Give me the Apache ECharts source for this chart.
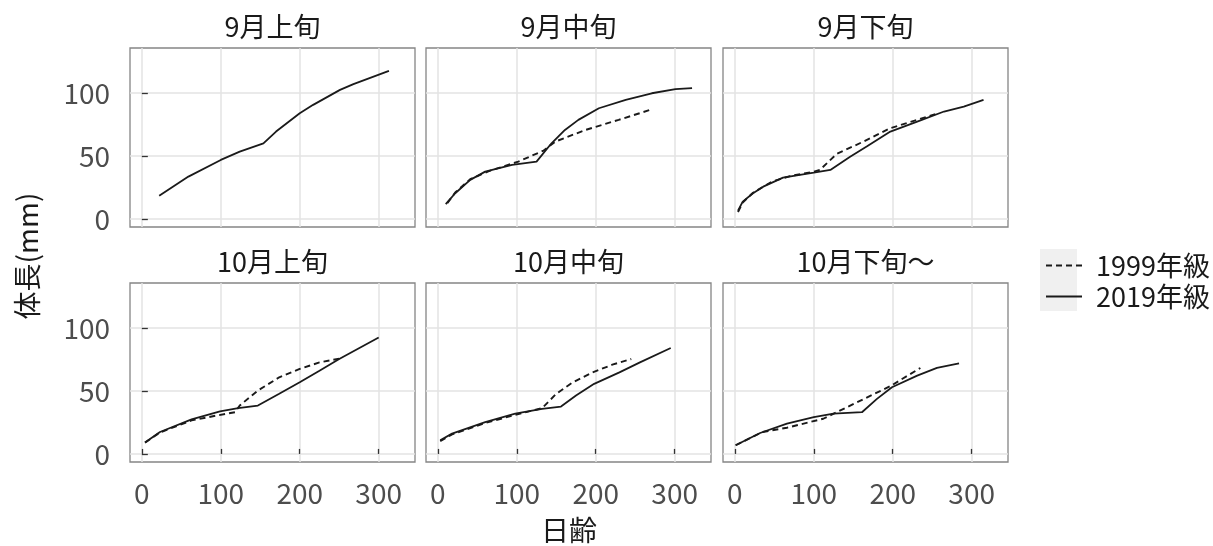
<!DOCTYPE html>
<html><head><meta charset="utf-8">
<script src="https://cdn.jsdelivr.net/npm/echarts@6/dist/echarts.min.js"></script>
<style>html,body{margin:0;padding:0;background:#fff}#c{width:1213px;height:546px}</style>
</head><body><div id="c"></div>
<script>
const panelTitles = ['9月上旬','9月中旬','9月下旬','10月上旬','10月中旬','10月下旬～'];
const cohortNames = ['1999年級','2019年級'];
const xTicks = [0, 100, 200, 300];
const yTicks = [0, 50, 100];
const xLabel = '日齢';
const yLabel = '体長(mm)';

// [日齢, 体長(mm)]
const sep1_1999 = [];
const sep1_2019 = [[22,18.3],[59,33.6],[100,46.8],[124,53.4],[154,60],[170,69.3],[200,83.9],[217,90.5],[251,102.4],[268,107],[313,117.5]];
const sep2_1999 = [[12,12.5],[22,21],[41,31.5],[64,37.8],[102,45.5],[134,54.2],[149,61.4],[187,70.6],[229,78.6],[269,86.5]];
const sep2_2019 = [[10,11.7],[22,20.4],[41,31],[60,37.5],[94,42.9],[125,45.5],[144,60],[161,70.6],[178,78.6],[204,87.8],[238,94.4],[271,99.7],[301,102.9],[322,103.7]];
const sep3_1999 = [[4,5.5],[10,13],[23,20.8],[47,29.6],[70,34],[100,37.5],[108,39],[129,51.6],[163,61.4],[197,72],[231,78.6],[258,83.9]];
const sep3_2019 = [[4,6.6],[10,13.7],[23,20.4],[36,25.6],[61,32.8],[100,36.7],[121,38.9],[146,49.4],[167,57.4],[197,69.3],[231,77.2],[265,85.2],[290,89.1],[315,94.4]];
const oct1_1999 = [[4,9],[23,17],[63,26.6],[95,30.5],[118,33.1],[124,38.4],[147,50.3],[174,60.8],[200,67.4],[225,72.6],[253,76]];
const oct1_2019 = [[4,9],[23,17.4],[63,27.4],[99,33.7],[122,36.3],[147,38.4],[174,47.7],[200,56.8],[225,66],[250,75.3],[300,92.3]];
const oct2_1999 = [[3,10.2],[18,15.5],[60,24.5],[98,31],[132,36.3],[150,47.7],[171,56.8],[196,64.7],[221,70.8],[245,75.3]];
const oct2_2019 = [[3,10.8],[18,16.1],[60,25.3],[98,31.9],[132,35.8],[156,37.6],[175,46.3],[198,55.6],[230,64.7],[256,72.6],[295,84]];
const oct3_1999 = [[1,6.9],[35,17.4],[66,20.8],[112,27.9],[129,33.1],[163,43.5],[197,53.8],[235,68.2]];
const oct3_2019 = [[1,6.9],[32,16.6],[66,24],[100,29.2],[125,31.9],[161,33.1],[180,43.7],[199,52.9],[231,62.1],[256,68.2],[284,71.8]];

const panels1999 = [sep1_1999, sep2_1999, sep3_1999, oct1_1999, oct2_1999, oct3_1999];
const panels2019 = [sep1_2019, sep2_2019, sep3_2019, oct1_2019, oct2_2019, oct3_2019];

const FONT = '"Noto Sans CJK JP", "Noto Sans", sans-serif';
const colLeft = [130, 426, 723];
const rowTop = [48, 283];
const W = 285, H = 179;

const grids = [], xAxes = [], yAxes = [], series = [], graphics = [];
for (let i = 0; i < 6; i++) {
  const r = Math.floor(i / 3), c = i % 3;
  grids.push({left: colLeft[c], top: rowTop[r], width: W, height: H, show: true,
    borderColor: '#858585', borderWidth: 1.3, backgroundColor: '#fff', containLabel: false});
  xAxes.push({gridIndex: i, type: 'value', min: -15, max: 346,
    axisLine: {show: false},
    axisTick: {show: r === 1, inside: true, length: 5, customValues: xTicks, lineStyle: {color: '#333', width: 1.3}},
    axisLabel: {show: r === 1, customValues: xTicks, margin: 17, fontSize: 28, color: '#4d4d4d', fontFamily: FONT},
    splitLine: {show: true, lineStyle: {color: '#e3e3e3', width: 1.5}}
  });
  yAxes.push({gridIndex: i, type: 'value', min: -6.4, max: 135.6,
    axisLine: {show: false},
    axisTick: {show: c === 0, inside: true, length: 6, customValues: yTicks, lineStyle: {color: '#333', width: 1.3}},
    axisLabel: {show: c === 0, customValues: yTicks, margin: 20, fontSize: 28, color: '#4d4d4d', fontFamily: FONT},
    splitLine: {show: true, lineStyle: {color: '#e3e3e3', width: 1.5}}
  });
  series.push({name: cohortNames[0], type: 'line', xAxisIndex: i, yAxisIndex: i, data: panels1999[i],
    symbol: 'none', silent: true, lineStyle: {color: '#1a1a1a', width: 1.9, type: [6, 4]}, itemStyle: {color: '#1a1a1a'}});
  series.push({name: cohortNames[1], type: 'line', xAxisIndex: i, yAxisIndex: i, data: panels2019[i],
    symbol: 'none', silent: true, lineStyle: {color: '#1a1a1a', width: 1.8, type: 'solid'}, itemStyle: {color: '#1a1a1a'}});
  graphics.push({type: 'text', x: colLeft[c] + W / 2, y: rowTop[r] - 21,
    style: {text: panelTitles[i], align: 'center', verticalAlign: 'middle', font: '27px ' + FONT, fill: '#1a1a1a'}});
}
graphics.unshift({type: 'rect', shape: {x: 1040, y: 249, width: 37, height: 62}, style: {fill: '#f0f0f0'}, z: -1});
graphics.push({type: 'text', x: 27, y: 256, rotation: Math.PI / 2,
  style: {text: yLabel, align: 'center', verticalAlign: 'middle', font: '28px ' + FONT, fill: '#1a1a1a'}});
graphics.push({type: 'text', x: 569, y: 530,
  style: {text: xLabel, align: 'center', verticalAlign: 'middle', font: '28px ' + FONT, fill: '#1a1a1a'}});

const chart = echarts.init(document.getElementById('c'), null, {renderer: 'canvas'});
chart.setOption({
  animation: false,
  backgroundColor: '#fff',
  grid: grids, xAxis: xAxes, yAxis: yAxes, series: series,
  legend: {data: cohortNames, orient: 'vertical', left: 1040, top: 247, itemWidth: 36, itemHeight: 14, itemGap: 4,
    selectedMode: false,
    itemStyle: {color: 'rgba(0,0,0,0)', borderColor: 'rgba(0,0,0,0)', borderWidth: 0},
    textStyle: {fontSize: 27, lineHeight: 27, color: '#1a1a1a', fontFamily: FONT, padding: [0, 0, 0, 9]}},
  graphic: graphics
});
</script></body></html>
